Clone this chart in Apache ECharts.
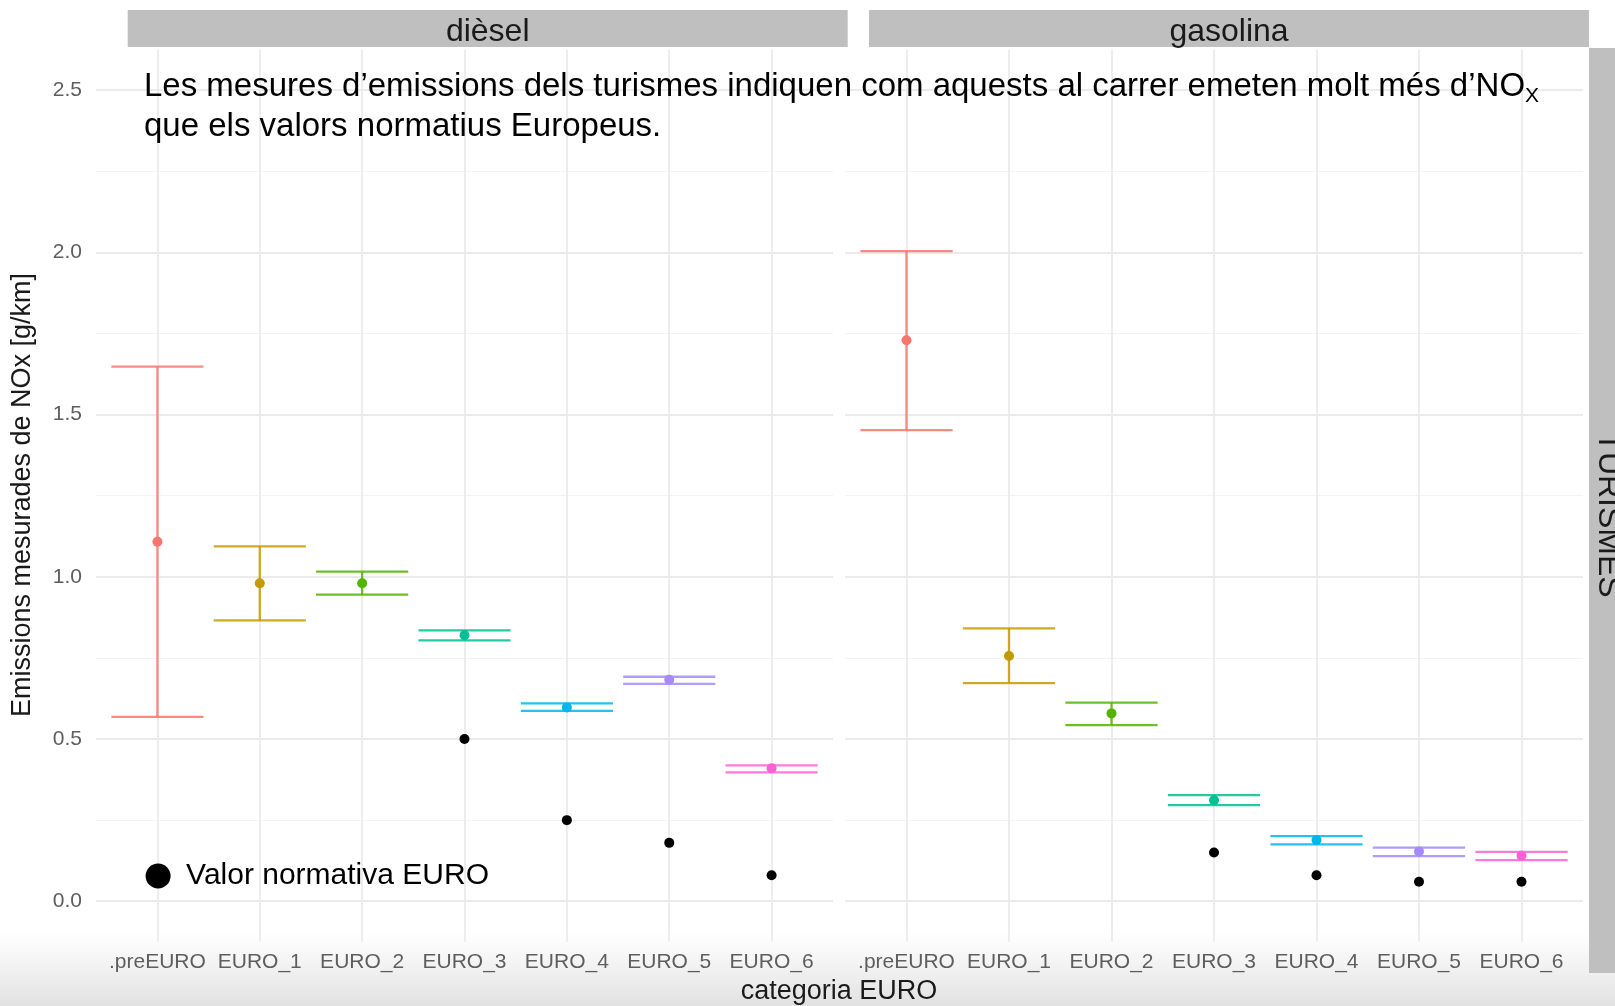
<!DOCTYPE html>
<html>
<head>
<meta charset="utf-8">
<title>Emissions NOx turismes</title>
<script src="https://cdn.jsdelivr.net/npm/echarts@6/dist/echarts.min.js"></script>
<style>
  html, body { margin: 0; padding: 0; background: #ffffff; }
  #chart { width: 1615px; height: 1006px; }
</style>
</head>
<body>
<div id="chart"></div>
<script>
// Categories (EURO standard) shared by both facets
const categories = ['.preEURO', 'EURO_1', 'EURO_2', 'EURO_3', 'EURO_4', 'EURO_5', 'EURO_6'];

// Diesel: measured NOx mean and interval [g/km]
const dieselMean = [1.108, 0.980, 0.980, 0.820, 0.597, 0.683, 0.410];
const dieselLow  = [0.568, 0.866, 0.945, 0.804, 0.587, 0.670, 0.397];
const dieselHigh = [1.648, 1.094, 1.016, 0.835, 0.610, 0.692, 0.419];
// Diesel: EURO regulatory limit
const dieselNorm = [null, null, null, 0.50, 0.25, 0.18, 0.08];

// Petrol: measured NOx mean and interval [g/km]
const gasMean = [1.729, 0.756, 0.579, 0.311, 0.189, 0.153, 0.140];
const gasLow  = [1.452, 0.672, 0.543, 0.296, 0.175, 0.139, 0.127];
const gasHigh = [2.004, 0.841, 0.612, 0.327, 0.201, 0.165, 0.152];
// Petrol: EURO regulatory limit
const gasNorm = [null, null, null, 0.15, 0.08, 0.06, 0.06];

// Y axis ticks
const yTicks = [0, 0.5, 1.0, 1.5, 2.0, 2.5];

const facetNames = ['dièsel', 'gasolina'];
const normName = 'Valor normativa EURO';

// ggplot-like hue palette, one colour per category
const hueColors = ['#F8766D', '#C49A00', '#53B400', '#00C094', '#00B6EB', '#A58AFF', '#FB61D7'];

const FONT = '"Liberation Sans", Arial, Helvetica, sans-serif';

// Panel geometry (pixels)
const panelTop = 49.6, panelBottom = 941.8;
const panels = [
  { left: 96, width: 737 },
  { left: 845, width: 738 }
];
// y range with 5% expansion around [0, 2.5]
const yMin = 0, yMax = 2.5;
const yExp = (yMax - yMin) * 0.05;
const panelH = panelBottom - panelTop;
const pxPerUnit = panelH / (yMax - yMin + 2 * yExp);
const innerTop = panelTop + yExp * pxPerUnit;
const innerH = (yMax - yMin) * pxPerUnit;

const grids = [], xAxes = [], yAxes = [];
// Grids 0,1: category positions (x expansion 0.6 units each side) + full-height vertical grid lines
panels.forEach((p, k) => {
  const unit = p.width / (categories.length - 1 + 1.2);
  grids.push({ left: p.left + 0.6 * unit, width: unit * (categories.length - 1), top: panelTop, height: panelH });
  xAxes.push({
    type: 'value', gridIndex: k, min: 0, max: categories.length - 1, interval: 1,
    axisLine: { show: false }, axisTick: { show: false },
    splitLine: { show: true, lineStyle: { color: '#ebebeb', width: 1.8 } },
    axisLabel: {
      show: true, margin: 10, fontSize: 21, color: '#5e5e5e', fontFamily: FONT,
      formatter: v => categories[Math.round(v)] || ''
    }
  });
  yAxes.push({
    type: 'value', gridIndex: k, min: yMin - yExp, max: yMax + yExp,
    show: false, splitLine: { show: false }
  });
});
// Grids 2,3: horizontal grid lines between 0 and 2.5 spanning the whole panel width
panels.forEach((p, k) => {
  grids.push({ left: p.left, width: p.width, top: innerTop, height: innerH });
  xAxes.push({ type: 'value', gridIndex: 2 + k, min: 0, max: 1, show: false });
  yAxes.push({
    type: 'value', gridIndex: 2 + k, min: yTicks[0], max: yTicks[yTicks.length - 1], interval: 0.5,
    axisLine: { show: false }, axisTick: { show: false },
    minorTick: { show: false, splitNumber: 2 },
    splitLine: { show: true, lineStyle: { color: '#ebebeb', width: 1.8 } },
    minorSplitLine: { show: true, lineStyle: { color: '#f3f3f3', width: 1.2 } },
    axisLabel: {
      show: k === 0, margin: 14, fontSize: 21, color: '#5e5e5e', fontFamily: FONT,
      formatter: v => v.toFixed(1)
    }
  });
});

function errorBarSeries(k, low, high) {
  return {
    type: 'custom', xAxisIndex: k, yAxisIndex: k, clip: false, z: 3,
    data: categories.map((c, i) => [i, low[i], high[i]]),
    renderItem: function (params, api) {
      const x = api.value(0);
      const pLo = api.coord([x, api.value(1)]);
      const pHi = api.coord([x, api.value(2)]);
      const half = api.size([0.9, 0])[0] / 2;
      const style = { stroke: hueColors[params.dataIndex], lineWidth: 2.3, opacity: 0.85, fill: null };
      return {
        type: 'group',
        children: [
          { type: 'line', shape: { x1: pLo[0], y1: pLo[1], x2: pHi[0], y2: pHi[1] }, style: style },
          { type: 'line', shape: { x1: pLo[0] - half, y1: pLo[1], x2: pLo[0] + half, y2: pLo[1] }, style: style },
          { type: 'line', shape: { x1: pHi[0] - half, y1: pHi[1], x2: pHi[0] + half, y2: pHi[1] }, style: style }
        ]
      };
    }
  };
}

function meanSeries(k, mean) {
  return {
    type: 'scatter', xAxisIndex: k, yAxisIndex: k, clip: false, z: 4,
    symbol: 'circle', symbolSize: 10, silent: true,
    data: mean.map((v, i) => ({ value: [i, v], itemStyle: { color: hueColors[i], opacity: 1 } }))
  };
}

function normSeries(k, norm) {
  return {
    name: normName, type: 'scatter', xAxisIndex: k, yAxisIndex: k, clip: false, z: 4,
    symbol: 'circle', symbolSize: 10, silent: true,
    itemStyle: { color: '#000000', opacity: 1 },
    data: norm.map((v, i) => [i, v]).filter(d => d[1] !== null)
  };
}

const series = [
  errorBarSeries(0, dieselLow, dieselHigh),
  meanSeries(0, dieselMean),
  normSeries(0, dieselNorm),
  errorBarSeries(1, gasLow, gasHigh),
  meanSeries(1, gasMean),
  normSeries(1, gasNorm)
];

const stripStyle = { fill: '#bfbfbf' };
const graphic = [
  // soft shading at the bottom edge
  {
    type: 'rect', z: -1, silent: true,
    shape: { x: 0, y: 932, width: 1615, height: 74 },
    style: {
      fill: new echarts.graphic.LinearGradient(0, 0, 0, 1, [
        { offset: 0, color: 'rgba(220,220,220,0)' },
        { offset: 1, color: 'rgba(215,215,215,0.75)' }
      ])
    }
  },
  // facet strips
  { type: 'rect', z: 1, shape: { x: 127.7, y: 10, width: 720, height: 37 }, style: stripStyle },
  { type: 'rect', z: 1, shape: { x: 869, y: 10, width: 720, height: 37 }, style: stripStyle },
  { type: 'rect', z: 1, shape: { x: 1589, y: 48, width: 30, height: 925 }, style: stripStyle },
  {
    type: 'text', z: 2, x: 487.7, y: 32.5,
    style: { text: facetNames[0], fontSize: 32, fontFamily: FONT, fill: '#1a1a1a', textAlign: 'center', textVerticalAlign: 'middle' }
  },
  {
    type: 'text', z: 2, x: 1229, y: 32.5,
    style: { text: facetNames[1], fontSize: 32, fontFamily: FONT, fill: '#1a1a1a', textAlign: 'center', textVerticalAlign: 'middle' }
  },
  {
    type: 'text', z: 2, x: 1608, y: 515, rotation: -Math.PI / 2,
    style: { text: 'TURISMES', fontSize: 32, fontFamily: FONT, fill: '#1a1a1a', textAlign: 'center', textVerticalAlign: 'middle' }
  },
  // annotation
  {
    type: 'text', z: 10, x: 144, y: 66.5,
    style: {
      text: '{a|Les mesures d’emissions dels turismes indiquen com aquests al carrer emeten molt més d’NO}{s|X}\n{a|que els valors normatius Europeus.}',
      fontFamily: FONT, fill: '#000000', textAlign: 'left', textVerticalAlign: 'top',
      rich: {
        a: { fontSize: 33, lineHeight: 40, fontFamily: FONT, fill: '#000000' },
        s: { fontSize: 21, lineHeight: 18, verticalAlign: 'bottom', fontFamily: FONT, fill: '#000000' }
      }
    }
  },
  // axis titles
  {
    type: 'text', z: 2, x: 23, y: 495, rotation: Math.PI / 2,
    style: { text: 'Emissions mesurades de NOx [g/km]', fontSize: 27, fontFamily: FONT, fill: '#1a1a1a', textAlign: 'center', textVerticalAlign: 'middle' }
  },
  {
    type: 'text', z: 2, x: 839, y: 992,
    style: { text: 'categoria EURO', fontSize: 27, fontFamily: FONT, fill: '#1a1a1a', textAlign: 'center', textVerticalAlign: 'middle' }
  }
];

const chart = echarts.init(document.getElementById('chart'), null, { renderer: 'canvas' });
chart.setOption({
  backgroundColor: '#ffffff',
  animation: false,
  textStyle: { fontFamily: FONT },
  grid: grids,
  xAxis: xAxes,
  yAxis: yAxes,
  legend: {
    data: [normName],
    left: 140.6, top: 856,
    icon: 'circle',
    itemWidth: 46, itemHeight: 25,
    itemStyle: { color: '#000000', opacity: 1 },
    textStyle: { fontSize: 30, color: '#000000', fontFamily: FONT },
    selectedMode: false
  },
  graphic: graphic,
  series: series
});
</script>
</body>
</html>
